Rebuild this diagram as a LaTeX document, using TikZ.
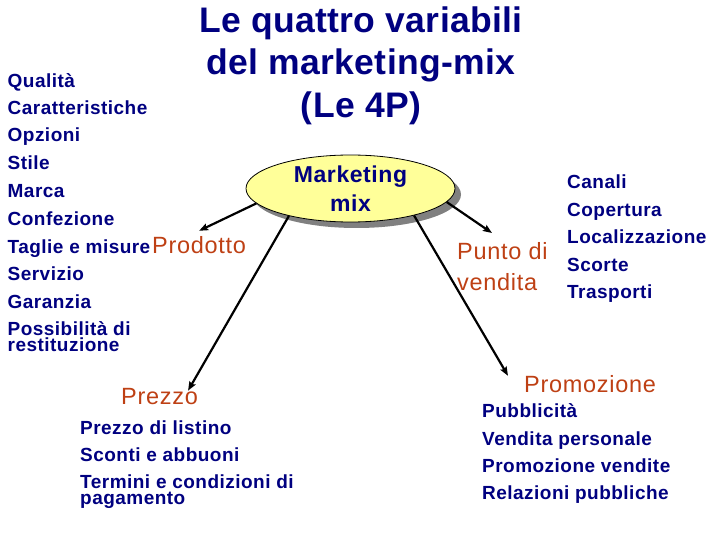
\documentclass[tikz,border=0pt]{standalone}
\usepackage{fontspec}
\setmainfont{Liberation Sans}
\newfontfamily\titolofont[LetterSpace=1]{Liberation Sans}
\newfontfamily\vocefont[LetterSpace=2.5]{Liberation Sans}
\newfontfamily\levafont[LetterSpace=3]{Liberation Sans}
\usepackage{tikz}
\usetikzlibrary{arrows.meta,shapes.geometric,shadows}
\usepackage{xcolor}
\definecolor{blu}{RGB}{0,0,128}
\definecolor{arancio}{RGB}{190,64,20}
\definecolor{giallo}{RGB}{255,255,153}
\tikzset{
  voce/.style={anchor=base west,inner sep=0pt,text=blu,font=\vocefont\bfseries\fontsize{19}{19}\selectfont},
  leva/.style={anchor=base west,inner sep=0pt,text=arancio,font=\levafont\fontsize{23.5}{31}\selectfont},
  freccia/.style={line width=2.2pt,-{Stealth[length=9pt,width=7pt,inset=1.5pt]}}
}
\newcommand{\voce}[4]{\node[voce] (#1) at (#2,#3) {#4};}

\begin{document}
\begin{tikzpicture}[x=1pt,y=-1pt]

    \coordinate (O) at (0,0);
    \useasboundingbox (O) rectangle (720,540);

    \node[align=center,anchor=north,inner sep=0pt,text=blu,font=\titolofont\bfseries\fontsize{35.5}{42.4}\selectfont] (titolo) at (361,6.6) {Le quattro variabili\\del marketing-mix\\(Le 4P)};

    \node[ellipse,draw,line width=0.8pt,fill=giallo,minimum width=209pt,minimum height=67pt,inner sep=0pt,
      align=center,text=blu,font=\vocefont\bfseries\fontsize{23}{28.4}\selectfont,
      drop shadow={shadow xshift=6pt,shadow yshift=-6pt,fill=black!50,opacity=1}] (mix) at (350.5,188.5) {Marketing\\mix};

    \node[leva] (prodotto) at (152,253) {Prodotto};
    \node[leva] (prezzo) at (121,404) {Prezzo};
    \node[leva] (promo) at (524,392) {Promozione};
    \node[leva,anchor=north west,align=left] (punto) at (457,242) {Punto di\\vendita};

    \voce{p1}{7.5}{87.3}{Qualità}
    \voce{p2}{7.5}{114.5}{Caratteristiche}
    \voce{p3}{7.5}{141.8}{Opzioni}
    \voce{p4}{7.5}{169.5}{Stile}
    \voce{p5}{7.5}{197.3}{Marca}
    \voce{p6}{7.5}{225.3}{Confezione}
    \voce{p7}{7.5}{253}{Taglie e misure}
    \voce{p8}{7.5}{280.8}{Servizio}
    \voce{p9}{7.5}{308.3}{Garanzia}
    \voce{p10}{7.5}{335.3}{Possibilità di}
    \voce{p11}{7.5}{351}{restituzione}

    \voce{d1}{567}{189}{Canali}
    \voce{d2}{567}{216.5}{Copertura}
    \voce{d3}{567}{243.5}{Localizzazione}
    \voce{d4}{567}{271}{Scorte}
    \voce{d5}{567}{298.5}{Trasporti}

    \voce{z1}{80}{434}{Prezzo di listino}
    \voce{z2}{80}{461.5}{Sconti e abbuoni}
    \voce{z3}{80}{488.5}{Termini e condizioni di}
    \voce{z4}{80}{504}{pagamento}

    \voce{c1}{482}{417.3}{Pubblicità}
    \voce{c2}{482}{445}{Vendita personale}
    \voce{c3}{482}{472.3}{Promozione vendite}
    \voce{c4}{482}{499.3}{Relazioni pubbliche}

    \draw[freccia] (mix.189) -- ([yshift=5pt]prodotto.north);
    \draw[freccia] (mix.204) -- ([xshift=-10pt,yshift=-3pt]prezzo.north east);
    \draw[freccia] (mix.352) -- ([xshift=35pt,yshift=9pt]punto.north west);
    \draw[freccia] (mix.337) -- ([xshift=-16pt,yshift=-1pt]promo.north west);

\end{tikzpicture}
\end{document}
